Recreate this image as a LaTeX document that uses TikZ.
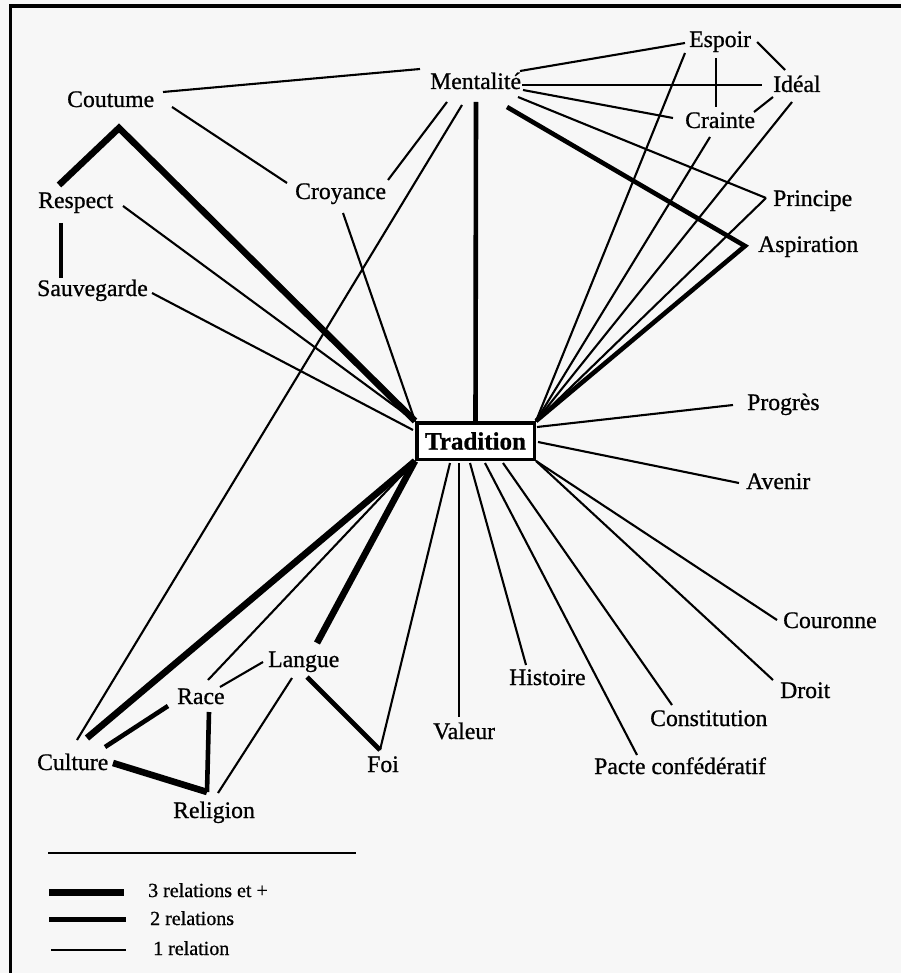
\documentclass[tikz,border=0pt]{standalone}
\usepackage{fontspec}
\setmainfont{Liberation Serif}[FakeBold=0.8]
\pgfdeclarelayer{back}
\pgfdeclarelayer{edges}
\pgfsetlayers{back,edges,main}
\begin{document}
\begin{tikzpicture}[x=1pt,y=-1pt,
  lbl/.style={anchor=base west, inner sep=0pt, font=\fontsize{23.7}{28}\selectfont},
  leg/.style={anchor=base west, inner sep=0pt, font=\fontsize{20}{24}\selectfont},
  w1/.style={line width=2.1pt},
  w2/.style={line width=4.6pt, line join=miter},
  w3/.style={line width=6.6pt, line join=miter},
  frame/.style={line width=3.5pt},
  tradbox/.style={draw, fill=white, line width=3.5pt, minimum width=117.5pt,
      minimum height=36.5pt, inner sep=0pt, font=\bfseries\fontsize{25}{28}\selectfont}]
\useasboundingbox (0,0) rectangle (901,973);
\begin{pgfonlayer}{back}
\fill[white!97!black] (0,0) rectangle (901,973);
\draw[frame] (10.5,973) -- (10.5,6) -- (901,6);
\end{pgfonlayer}

% ---- text nodes ----
\node[lbl] (Coutume) at (67,107) {Coutume};
\node[lbl] (Respect) at (38,208) {Respect};
\node[lbl] (Sauvegarde) at (37,296) {Sauvegarde};
\node[lbl] (Croyance) at (295,199) {Croyance};
\node[lbl] (Mentalite) at (430,89) {Mentalité};
\node[lbl] (Espoir) at (689,47) {Espoir};
\node[lbl] (Ideal) at (773,92) {Idéal};
\node[lbl] (Crainte) at (685,128) {Crainte};
\node[lbl] (Principe) at (773,206) {Principe};
\node[lbl] (Aspiration) at (758,252) {Aspiration};
\node[lbl] (Progres) at (747,410) {Progrès};
\node[lbl] (Avenir) at (746,489) {Avenir};
\node[lbl] (Couronne) at (783,628) {Couronne};
\node[lbl] (Droit) at (780,698) {Droit};
\node[lbl] (Constitution) at (650,726) {Constitution};
\node[lbl] (Pacte) at (594,774) {Pacte confédératif};
\node[lbl] (Histoire) at (509,685) {Histoire};
\node[lbl] (Valeur) at (433,739) {Valeur};
\node[lbl] (Foi) at (367,772) {Foi};
\node[lbl] (Langue) at (268,667) {Langue};
\node[lbl] (Race) at (177,704) {Race};
\node[lbl] (Culture) at (37,770) {Culture};
\node[lbl] (Religion) at (173,818) {Religion};

\node[tradbox] (T) at (475.5,441) {Tradition};

% ---- connector end points ----
\coordinate (couE) at (163,92);
\coordinate (couSE) at (172,107);
\coordinate (couA) at (119,128);
\coordinate (resT) at (59,185);
\coordinate (resE) at (123,206);
\coordinate (resB) at (61,223);
\coordinate (sauT) at (61,278);
\coordinate (sauE) at (152,293);
\coordinate (croW) at (287,183);
\coordinate (croNE) at (388,180);
\coordinate (croS) at (343,213);
\coordinate (menW) at (420,69);
\coordinate (menSW1) at (447,102);
\coordinate (menSW2) at (462,105);
\coordinate (menS) at (476,102);
\coordinate (menE1) at (520,71);
\coordinate (menE2) at (522,85);
\coordinate (menE3) at (523,90);
\coordinate (menE4) at (518,97);
\coordinate (menE5) at (507,107);
\coordinate (espW) at (685,43);
\coordinate (espSW) at (685,53);
\coordinate (espS) at (716,58);
\coordinate (espE) at (757,42);
\coordinate (ideW) at (762,85);
\coordinate (ideNW) at (785,70);
\coordinate (ideSW) at (773,97);
\coordinate (ideS) at (792,102);
\coordinate (craW) at (673,118);
\coordinate (craN) at (716,107);
\coordinate (craE) at (754,112);
\coordinate (craS) at (710,137);
\coordinate (priW) at (766,198);
\coordinate (aspW) at (745,246);
\coordinate (proW) at (733,405);
\coordinate (aveW) at (739,483);
\coordinate (corW) at (777,620);
\coordinate (droW) at (773,680);
\coordinate (conN) at (672,705);
\coordinate (pacN) at (637,755);
\coordinate (hisN) at (526,665);
\coordinate (valN) at (459,717);
\coordinate (foiN) at (380,750);
\coordinate (lanN) at (317,643);
\coordinate (lanSE) at (307,677);
\coordinate (lanW) at (263,662);
\coordinate (lanSW) at (292,678);
\coordinate (racNE) at (208,680);
\coordinate (racE) at (220,687);
\coordinate (racSW) at (168,706);
\coordinate (racS) at (209,712);
\coordinate (culNE1) at (77,740);
\coordinate (culNE2) at (87,738);
\coordinate (culNE3) at (105,747);
\coordinate (culE) at (113,763);
\coordinate (relN) at (207,792);
\coordinate (relNE) at (218,793);
\coordinate (trW) at (413,430);
\coordinate (trE1) at (537,427);
\coordinate (trE2) at (538,442);
\coordinate (trS1) at (450,463);
\coordinate (trS2) at (459,463);
\coordinate (trS3) at (470,463);
\coordinate (trS4) at (485,463);
\coordinate (trS5) at (503,463);

\begin{pgfonlayer}{edges}
% ---- 1 relation ----
\draw[w1] (couE) -- (menW);
\draw[w1] (couSE) -- (croW);
\draw[w1] (resE) -- (T.north west);
\draw[w1] (sauE) -- (trW);
\draw[w1] (croNE) -- (menSW1);
\draw[w1] (croS) -- (T.north west);
\draw[w1] (menSW2) -- (culNE1);
\draw[w1] (menE1) -- (espW);
\draw[w1] (menE2) -- (ideW);
\draw[w1] (menE3) -- (craW);
\draw[w1] (menE4) -- (priW);
\draw[w1] (espS) -- (craN);
\draw[w1] (espE) -- (ideNW);
\draw[w1] (craE) -- (ideSW);
\draw[w1] (espSW) -- (T.north east);
\draw[w1] (craS) -- (T.north east);
\draw[w1] (ideS) -- (T.north east);
\draw[w1] (priW) -- (T.north east);
\draw[w1] (proW) -- (trE1);
\draw[w1] (aveW) -- (trE2);
\draw[w1] (corW) -- (T.south east);
\draw[w1] (droW) -- (T.south east);
\draw[w1] (conN) -- (trS5);
\draw[w1] (pacN) -- (trS4);
\draw[w1] (hisN) -- (trS3);
\draw[w1] (valN) -- (trS2);
\draw[w1] (foiN) -- (trS1);
\draw[w1] (racNE) -- (T.south west);
\draw[w1] (racE) -- (lanW);
\draw[w1] (relNE) -- (lanSW);

% ---- 2 relations ----
\draw[w2] (resB) -- (sauT);
\draw[w2] (menS) -- (T.north);
\draw[w2] (menE5) -- (aspW) -- (T.north east);
\draw[w2] (lanSE) -- (foiN);
\draw[w2] (racSW) -- (culNE3);
\draw[w2] (racS) -- (relN);

% ---- 3 relations and more ----
\draw[w3] (resT) -- (couA) -- (T.north west);
\draw[w3] (lanN) -- (T.south west);
\draw[w3] (culNE2) -- (T.south west);
\draw[w3] (culE) -- (relN);
\end{pgfonlayer}

% ---- legend ----
\coordinate (sepL) at (48,853);
\coordinate (sepR) at (356,853);
\draw[w1] (sepL) -- (sepR);
\node[leg] (L3) at (148,897) {3 relations et +};
\node[leg] (L2) at (150,925) {2 relations};
\node[leg] (L1) at (153,955) {1 relation};
\coordinate (l3a) at (49,892);
\coordinate (l2a) at (49,919);
\coordinate (l1a) at (51,950);
\draw[line width=7pt] (l3a) -- ([xshift=-24pt]L3.base west |- l3a);
\draw[line width=5pt] (l2a) -- ([xshift=-24pt]L2.base west |- l2a);
\draw[line width=2pt] (l1a) -- ([xshift=-27pt]L1.base west |- l1a);
\end{tikzpicture}
\end{document}
